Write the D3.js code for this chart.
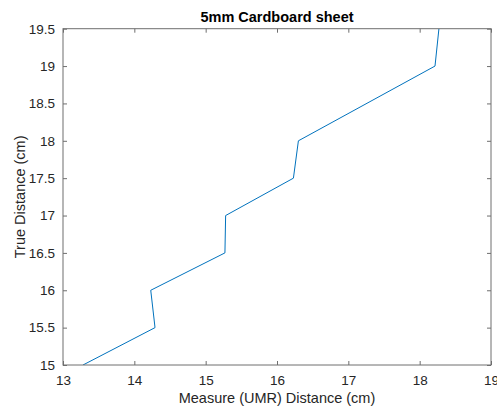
<!DOCTYPE html>
<html><head><meta charset="utf-8">
<script src="https://cdn.jsdelivr.net/npm/d3@7"></script>
<style>body{margin:0;background:#fff;} text{font-family:"Liberation Sans",Arial,Helvetica,sans-serif;}</style>
</head><body><svg id="c" width="497" height="408"></svg>
<script>
const measured = [13.28, 14.29, 14.23, 15.27, 15.28, 16.23, 16.30, 18.215, 18.27];
const trueDist = [15.0, 15.5, 16.0, 16.5, 17.0, 17.5, 18.0, 19.0, 19.5];
const xTicks = [13, 14, 15, 16, 17, 18, 19];
const yTicks = [15, 15.5, 16, 16.5, 17, 17.5, 18, 18.5, 19, 19.5];

const svg = d3.select("#c");
const L = 63, R = 491, T = 28.7, B = 365;
const x = d3.scaleLinear().domain([13, 19]).range([L, R]);
const y = d3.scaleLinear().domain([15, 19.5]).range([B, T]);
const axc = "#262626";
const boxc = "#6e6e6e";

svg.append("rect").attr("x", L).attr("y", T).attr("width", R - L).attr("height", B - T)
  .attr("fill", "#fff");

svg.append("defs").append("clipPath").attr("id", "clip").append("rect")
  .attr("x", L).attr("y", T).attr("width", R - L).attr("height", B - T);

const pts = measured.map((m, i) => [m, trueDist[i]]);
svg.append("path").datum(pts)
  .attr("clip-path", "url(#clip)")
  .attr("fill", "none").attr("stroke", "#0072BD").attr("stroke-width", 1)
  .attr("d", d3.line().x(d => x(d[0])).y(d => y(d[1])));

const tl = 4;
function style(g) {
  g.selectAll(".domain").remove();
  g.selectAll(".tick line").attr("stroke", boxc).attr("stroke-width", 1);
  g.selectAll(".tick text").attr("fill", axc).attr("font-size", 13.5);
}
svg.append("g").attr("transform", `translate(0,${B})`)
  .call(d3.axisBottom(x).tickValues(xTicks).tickFormat(d3.format("d")).tickSizeInner(-tl).tickSizeOuter(0).tickPadding(10))
  .call(style);
svg.append("g").attr("transform", `translate(0,${T})`)
  .call(d3.axisTop(x).tickValues(xTicks).tickFormat("").tickSizeInner(-tl).tickSizeOuter(0))
  .call(style);
svg.append("g").attr("transform", `translate(${L},0)`)
  .call(d3.axisLeft(y).tickValues(yTicks).tickFormat(d => d).tickSizeInner(-tl).tickSizeOuter(0).tickPadding(8))
  .call(style);
svg.append("g").attr("transform", `translate(${R},0)`)
  .call(d3.axisRight(y).tickValues(yTicks).tickFormat("").tickSizeInner(-tl).tickSizeOuter(0))
  .call(style);

svg.append("rect").attr("x", L).attr("y", T).attr("width", R - L).attr("height", B - T)
  .attr("fill", "none").attr("stroke", boxc).attr("stroke-width", 1);

svg.append("text").attr("x", (L + R) / 2).attr("y", 22).attr("text-anchor", "middle")
  .attr("font-size", 14.5).attr("font-weight", "bold").attr("fill", "#000").text("5mm Cardboard sheet");
svg.append("text").attr("x", (L + R) / 2).attr("y", 403).attr("text-anchor", "middle")
  .attr("font-size", 14.5).attr("fill", axc).text("Measure (UMR) Distance (cm)");
svg.append("text").attr("transform", `translate(25,${(T + B) / 2}) rotate(-90)`).attr("text-anchor", "middle")
  .attr("font-size", 14.5).attr("fill", axc).text("True Distance (cm)");
</script></body></html>
